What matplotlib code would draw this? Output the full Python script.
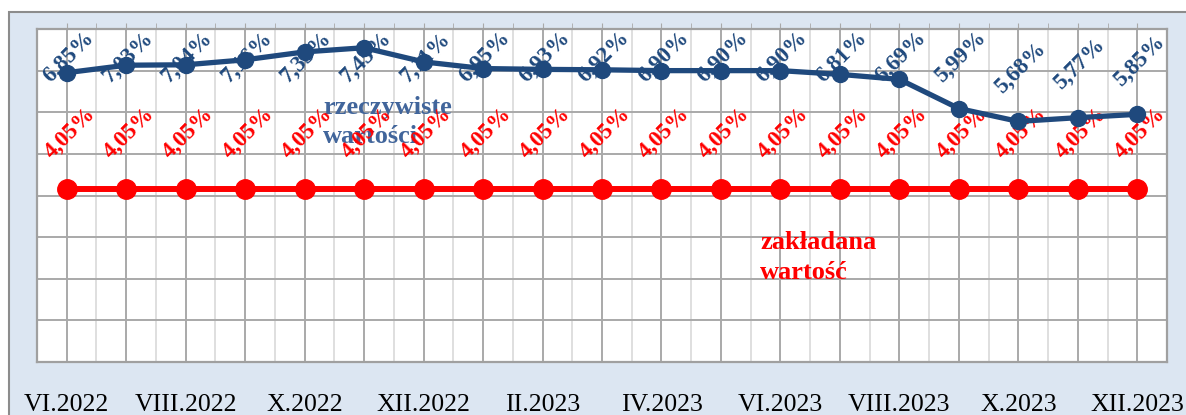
import numpy as np
import matplotlib.pyplot as plt
from matplotlib.patches import Rectangle

plt.rcParams.update({
    "font.family": ["Liberation Serif", "DejaVu Serif"],
})

# =====================================================
# Data
# =====================================================
months = ["VI.2022", "VII.2022", "VIII.2022", "IX.2022", "X.2022", "XI.2022",
          "XII.2022", "I.2023", "II.2023", "III.2023", "IV.2023", "V.2023",
          "VI.2023", "VII.2023", "VIII.2023", "IX.2023", "X.2023", "XI.2023",
          "XII.2023"]
actual = [6.85, 7.03, 7.04, 7.16, 7.35, 7.45, 7.11, 6.95, 6.93, 6.92,
          6.90, 6.90, 6.90, 6.81, 6.69, 5.99, 5.68, 5.77, 5.85]
target = [4.05] * 19

BLUE = "#1F497D"
RED = "#FF0000"
GRID = "#A9A9A9"
GRID_MINOR = "#D9D9D9"


def pct(v):
    return f"{v:.2f}%".replace(".", ",")


# =====================================================
# Figure
# =====================================================
W, H = 1186, 415
fig = plt.figure(figsize=(W / 100, H / 100), dpi=100)

# light blue chart frame (cut off at right / bottom)
fig.patches.append(Rectangle(
    (9 / W, -0.05), 1.2, 1 - 12 / H + 0.05,
    transform=fig.transFigure, facecolor="#DCE6F2",
    edgecolor="#8C8C8C", linewidth=1.5, zorder=-5))

ax = fig.add_axes([37 / W, 1 - 362 / H, (1167 - 37) / W, (362 - 29) / H])
ax.set_zorder(2)
ax.set_facecolor("white")

x = np.arange(len(months))

ax.set_xlim(-0.5, len(months) - 0.5)
ax.set_ylim(-0.1, 7.9)

# grid
ax.set_yticks(np.arange(-0.1, 7.95, 1.0))
ax.set_xticks(x)
ax.set_xticks(x[:-1] + 0.5, minor=True)
ax.grid(True, axis="y", color=GRID, linewidth=1.4, zorder=0)
ax.grid(True, axis="x", which="major", color=GRID, linewidth=1.4, zorder=0)
ax.grid(True, axis="x", which="minor", color=GRID_MINOR, linewidth=1.2, zorder=0)
ax.set_axisbelow(True)

ax.set_xticklabels([m if i % 2 == 0 else "" for i, m in enumerate(months)],
                   fontsize=18.5)
ax.tick_params(axis="x", which="both", top=True, bottom=False,
               labelbottom=True, length=4, color=GRID, pad=19)
ax.tick_params(axis="y", length=0, labelleft=False)

for s in ax.spines.values():
    s.set_color("#A0A0A0")
    s.set_linewidth(1.6)

# series
ax.plot(x, target, color=RED, linewidth=4.3, marker="o", markersize=14,
        zorder=4)
ax.plot(x, actual, color=BLUE, linewidth=3.8, marker="o", markersize=11.5,
        zorder=5)

# data labels
for xi, v in zip(x, target):
    ax.text(xi + 0.05, v + 1.36, pct(v), rotation=45, ha="center",
            va="center", color=RED, fontsize=16.5, fontweight="bold", zorder=3)
for xi, v in zip(x, actual):
    ax.text(xi + 0.03, min(v + 1.28, 7.22), pct(v), rotation=45,
            ha="center", va="center", color=BLUE, fontsize=16.5,
            fontweight="bold", zorder=3)

# series captions
ax.text(0.253, 0.80, "rzeczywiste\nwartości", transform=ax.transAxes,
        ha="left", va="top", color="#41659B", fontsize=19,
        fontweight="bold", linespacing=1.35, zorder=2)
ax.text(0.640, 0.392, "zakładana\nwartość", transform=ax.transAxes,
        ha="left", va="top", color=RED, fontsize=19,
        fontweight="bold", linespacing=1.35, zorder=2)

fig.savefig("out.png", dpi=100)
